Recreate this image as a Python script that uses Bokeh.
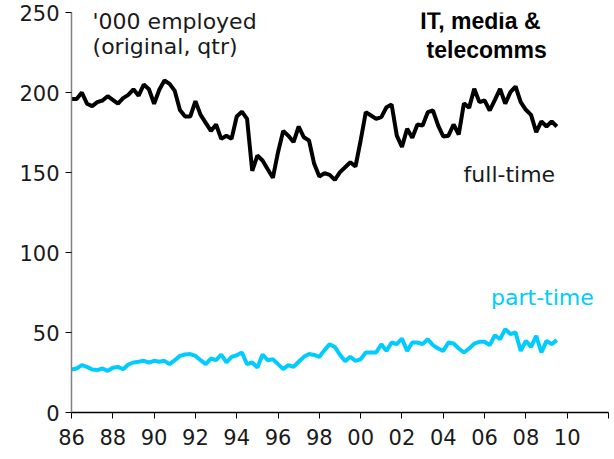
from bokeh.plotting import figure
from bokeh.models import Range1d, Label, FixedTicker, ColumnDataSource
from bokeh.embed import file_html
from bokeh.resources import INLINE

start_year = 1986.0
quarter = 0.25

full_time = [196, 196, 200, 193, 191.5, 194, 195, 197.7, 195.4, 193,
             196.5, 198.5, 202, 198, 205, 202, 193, 201.7, 207.5, 205.4,
             201, 189, 185, 185, 194.6, 186, 181, 176, 180, 171,
             173, 171, 185, 188, 183.5, 151, 160.6, 157.5, 152, 146.7,
             162.7, 176, 173, 169, 178.75, 172, 170, 155.4, 147.5, 149.6,
             148.5, 145.4, 150.2, 153.3, 156.4, 153.75, 170, 187.7, 185.6, 183.5,
             184.6, 190.8, 192.5, 173, 166, 177.3, 171.7, 180, 179.4, 187.7,
             188.75, 179.4, 172.5, 173, 180, 173.75, 193.3, 190.4, 202.3, 194,
             195, 188.75, 195.4, 202.3, 193, 200.2, 203.75, 194, 189.2, 186,
             175.2, 182, 178.75, 182, 178.75]

part_time = [26.9, 27.5, 29.6, 28.5, 26.9, 26.5, 27.5, 26, 28, 28.5,
             27, 30, 31.25, 31.7, 32.3, 31.25, 32.3, 31.7, 32.3, 30.2,
             32.7, 35.4, 36.25, 36.5, 35.4, 32.7, 30.2, 33.75, 32.7, 36.25,
             31.25, 34.8, 35.8, 37.5, 30.2, 31.25, 28.1, 36.25, 32.7, 33.3,
             30.2, 27.1, 29.6, 28.5, 31.7, 34.8, 36.5, 36, 34.8, 39,
             42.7, 41, 36, 32.1, 34.8, 32.3, 33.3, 37.5, 37.5, 37.5,
             42.7, 38.5, 43.75, 42.7, 46.25, 38.5, 43.75, 43.75, 42.7, 45.8,
             42.1, 40, 38.5, 43.75, 43.1, 40, 37.5, 40, 43, 44.2,
             44.2, 42.1, 48.3, 45.8, 52.1, 49, 50, 38.5, 44.8, 41,
             47.9, 37.5, 44.8, 42.7, 45.2]

x_tick_years = [1986, 1988, 1990, 1992, 1994, 1996, 1998, 2000, 2002, 2004,
                2006, 2008, 2010, 2012]
x_tick_labels = ["86", "88", "90", "92", "94", "96", "98", "00", "02", "04",
                 "06", "08", "10", ""]
y_ticks = [0, 50, 100, 150, 200, 250]

x = [start_year + i * quarter for i in range(len(full_time))]
src = ColumnDataSource(data=dict(x=x, ft=full_time, pt=part_time))

p = figure(width=610, height=455, output_backend="svg", toolbar_location=None,
           x_range=Range1d(1986, 2012), y_range=Range1d(0, 250),
           min_border_left=71, min_border_right=2, min_border_top=12,
           min_border_bottom=43)
p.outline_line_color = None
p.grid.visible = False
p.background_fill_color = "white"

p.line("x", "ft", source=src, line_color="black", line_width=4)
p.line("x", "pt", source=src, line_color="#00CCFF", line_width=4)

tick_font = "DejaVu Sans"
p.xaxis.ticker = FixedTicker(ticks=x_tick_years)
p.xaxis.major_label_overrides = {yr: lab for yr, lab in zip(x_tick_years, x_tick_labels)}
p.yaxis.ticker = FixedTicker(ticks=y_ticks)
for ax in (p.xaxis[0], p.yaxis[0]):
    ax.major_label_text_font = tick_font
    ax.major_label_text_font_size = "21px"
    ax.major_label_text_color = "#1a1a1a"
    ax.major_tick_out = 6
    ax.major_tick_in = 0
    ax.minor_tick_out = 0
    ax.minor_tick_in = 0
    ax.major_tick_line_color = "black"
    ax.axis_line_width = 1.5
    ax.major_label_standoff = 6
p.xaxis.major_label_standoff = 10
p.xaxis.axis_line_color = "black"
p.yaxis.axis_line_color = "#808080"

lab_font = "DejaVu Sans"
bold_font = "Liberation Sans"
p.add_layout(Label(x=1987.02, y=244.4, text="'000 employed", text_font=lab_font,
                   text_font_size="22px", text_color="#1a1a1a", text_baseline="middle"))
p.add_layout(Label(x=1987.02, y=228.8, text="(original, qtr)", text_font=lab_font,
                   text_font_size="22px", text_color="#1a1a1a", text_baseline="middle"))
p.add_layout(Label(x=2005.8, y=244.4, text="IT, media &", text_font=bold_font,
                   text_font_size="23px", text_font_style="bold", text_color="black",
                   text_align="center", text_baseline="middle"))
p.add_layout(Label(x=2006.1, y=226.3, text="telecomms", text_font=bold_font,
                   text_font_size="23px", text_font_style="bold", text_color="black",
                   text_align="center", text_baseline="middle"))
p.add_layout(Label(x=2007.2, y=148.8, text="full-time", text_font=lab_font,
                   text_font_size="22px", text_color="#1a1a1a",
                   text_align="center", text_baseline="middle"))
p.add_layout(Label(x=2008.8, y=71.9, text="part-time", text_font=lab_font,
                   text_font_size="22px", text_color="#00CCFF",
                   text_align="center", text_baseline="middle"))

open("out.html", "w").write(file_html(p, INLINE))
